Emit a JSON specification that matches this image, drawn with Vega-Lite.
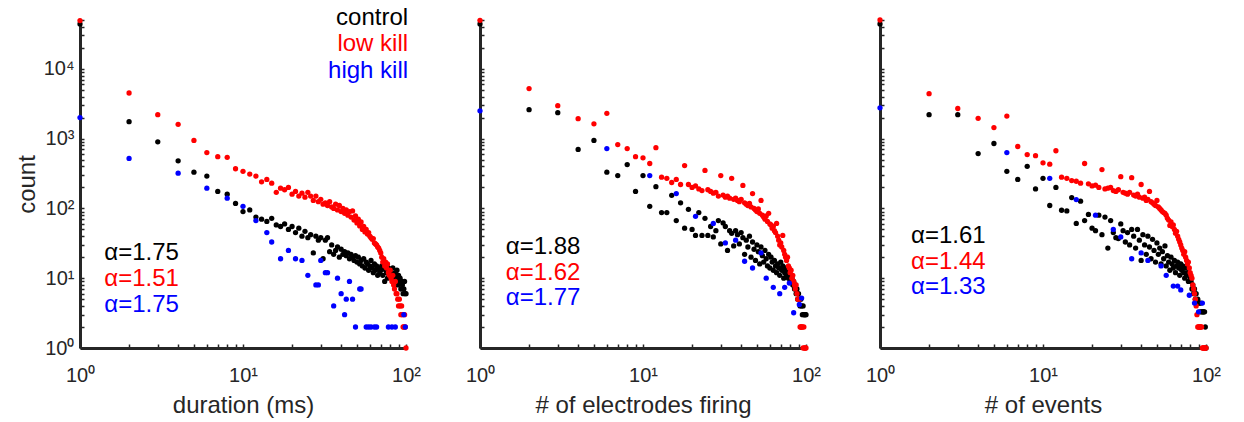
{
"$schema":"https://vega.github.io/schema/vega-lite/v6.json",
"background":"white",
"padding":{"left":15,"top":5,"right":5,"bottom":5},
"datasets":{
"pts":[
{"p":1,"s":"c","x":1,"y":44000},{"p":1,"s":"c","x":2,"y":1750},{"p":1,"s":"c","x":3,"y":900},{"p":1,"s":"c","x":4,"y":480},{"p":1,"s":"c","x":5,"y":330},{"p":1,"s":"c","x":6,"y":290},{"p":1,"s":"c","x":7,"y":175},{"p":1,"s":"c","x":8,"y":160},{"p":1,"s":"c","x":9,"y":118},{"p":1,"s":"c","x":10,"y":90},
{"p":1,"s":"c","x":11,"y":95},{"p":1,"s":"c","x":12,"y":75},{"p":1,"s":"c","x":13,"y":70},{"p":1,"s":"c","x":14,"y":65},{"p":1,"s":"c","x":15,"y":72},{"p":1,"s":"c","x":16,"y":58},{"p":1,"s":"c","x":17,"y":55},{"p":1,"s":"c","x":18,"y":60},{"p":1,"s":"c","x":19,"y":50},{"p":1,"s":"c","x":20,"y":55},
{"p":1,"s":"c","x":21,"y":45},{"p":1,"s":"c","x":22,"y":52},{"p":1,"s":"c","x":23,"y":40},{"p":1,"s":"c","x":24,"y":47},{"p":1,"s":"c","x":25,"y":38},{"p":1,"s":"c","x":26,"y":42},{"p":1,"s":"c","x":27,"y":23},{"p":1,"s":"c","x":28,"y":40},{"p":1,"s":"c","x":29,"y":35},{"p":1,"s":"c","x":30,"y":38},
{"p":1,"s":"c","x":31,"y":19},{"p":1,"s":"c","x":32,"y":35},{"p":1,"s":"c","x":33,"y":38},{"p":1,"s":"c","x":34,"y":24},{"p":1,"s":"c","x":35,"y":30},{"p":1,"s":"c","x":36,"y":22},{"p":1,"s":"c","x":37,"y":25},{"p":1,"s":"c","x":38,"y":28},{"p":1,"s":"c","x":39,"y":20},{"p":1,"s":"c","x":40,"y":26},
{"p":1,"s":"c","x":41,"y":22},{"p":1,"s":"c","x":42,"y":24},{"p":1,"s":"c","x":43,"y":21},{"p":1,"s":"c","x":44,"y":23},{"p":1,"s":"c","x":45,"y":19},{"p":1,"s":"c","x":46,"y":22},{"p":1,"s":"c","x":47,"y":20},{"p":1,"s":"c","x":48,"y":18},{"p":1,"s":"c","x":49,"y":21},{"p":1,"s":"c","x":50,"y":17},
{"p":1,"s":"c","x":51,"y":20},{"p":1,"s":"c","x":52,"y":16},{"p":1,"s":"c","x":53,"y":18},{"p":1,"s":"c","x":54,"y":15},{"p":1,"s":"c","x":55,"y":19},{"p":1,"s":"c","x":56,"y":14},{"p":1,"s":"c","x":57,"y":17},{"p":1,"s":"c","x":58,"y":16},{"p":1,"s":"c","x":59,"y":13},{"p":1,"s":"c","x":60,"y":15},
{"p":1,"s":"c","x":61,"y":18},{"p":1,"s":"c","x":62,"y":14},{"p":1,"s":"c","x":63,"y":12},{"p":1,"s":"c","x":64,"y":16},{"p":1,"s":"c","x":65,"y":13},{"p":1,"s":"c","x":66,"y":15},{"p":1,"s":"c","x":67,"y":11},{"p":1,"s":"c","x":68,"y":14},{"p":1,"s":"c","x":69,"y":12},{"p":1,"s":"c","x":70,"y":13},
{"p":1,"s":"c","x":71,"y":15},{"p":1,"s":"c","x":72,"y":11},{"p":1,"s":"c","x":73,"y":14},{"p":1,"s":"c","x":74,"y":9},{"p":1,"s":"c","x":75,"y":13},{"p":1,"s":"c","x":76,"y":12},{"p":1,"s":"c","x":77,"y":10},{"p":1,"s":"c","x":78,"y":14},{"p":1,"s":"c","x":79,"y":11},{"p":1,"s":"c","x":80,"y":13},
{"p":1,"s":"c","x":81,"y":12},{"p":1,"s":"c","x":82,"y":10},{"p":1,"s":"c","x":83,"y":14},{"p":1,"s":"c","x":84,"y":11},{"p":1,"s":"c","x":85,"y":9},{"p":1,"s":"c","x":86,"y":12},{"p":1,"s":"c","x":87,"y":10},{"p":1,"s":"c","x":88,"y":13},{"p":1,"s":"c","x":89,"y":8},{"p":1,"s":"c","x":90,"y":11},
{"p":1,"s":"c","x":91,"y":9},{"p":1,"s":"c","x":92,"y":10},{"p":1,"s":"c","x":93,"y":7},{"p":1,"s":"c","x":94,"y":9},{"p":1,"s":"c","x":95,"y":8},{"p":1,"s":"c","x":96,"y":6},{"p":1,"s":"c","x":97,"y":7},{"p":1,"s":"c","x":98,"y":9},{"p":1,"s":"c","x":99,"y":6},{"p":1,"s":"c","x":100,"y":6},
{"p":1,"s":"l","x":1,"y":49000},{"p":1,"s":"l","x":2,"y":4500},{"p":1,"s":"l","x":3,"y":2200},{"p":1,"s":"l","x":4,"y":1600},{"p":1,"s":"l","x":5,"y":940},{"p":1,"s":"l","x":6,"y":630},{"p":1,"s":"l","x":7,"y":550},{"p":1,"s":"l","x":8,"y":540},{"p":1,"s":"l","x":9,"y":370},{"p":1,"s":"l","x":10,"y":340},
{"p":1,"s":"l","x":11,"y":310},{"p":1,"s":"l","x":12,"y":290},{"p":1,"s":"l","x":13,"y":240},{"p":1,"s":"l","x":14,"y":260},{"p":1,"s":"l","x":15,"y":230},{"p":1,"s":"l","x":16,"y":170},{"p":1,"s":"l","x":17,"y":195},{"p":1,"s":"l","x":18,"y":185},{"p":1,"s":"l","x":19,"y":200},{"p":1,"s":"l","x":20,"y":160},
{"p":1,"s":"l","x":21,"y":175},{"p":1,"s":"l","x":22,"y":150},{"p":1,"s":"l","x":23,"y":165},{"p":1,"s":"l","x":24,"y":145},{"p":1,"s":"l","x":25,"y":170},{"p":1,"s":"l","x":26,"y":150},{"p":1,"s":"l","x":27,"y":130},{"p":1,"s":"l","x":28,"y":150},{"p":1,"s":"l","x":29,"y":125},{"p":1,"s":"l","x":30,"y":135},
{"p":1,"s":"l","x":31,"y":115},{"p":1,"s":"l","x":32,"y":120},{"p":1,"s":"l","x":33,"y":110},{"p":1,"s":"l","x":34,"y":125},{"p":1,"s":"l","x":35,"y":105},{"p":1,"s":"l","x":36,"y":100},{"p":1,"s":"l","x":37,"y":115},{"p":1,"s":"l","x":38,"y":95},{"p":1,"s":"l","x":39,"y":110},{"p":1,"s":"l","x":40,"y":90},
{"p":1,"s":"l","x":41,"y":100},{"p":1,"s":"l","x":42,"y":85},{"p":1,"s":"l","x":43,"y":95},{"p":1,"s":"l","x":44,"y":80},{"p":1,"s":"l","x":45,"y":90},{"p":1,"s":"l","x":46,"y":75},{"p":1,"s":"l","x":47,"y":92},{"p":1,"s":"l","x":48,"y":68},{"p":1,"s":"l","x":49,"y":78},{"p":1,"s":"l","x":50,"y":62},
{"p":1,"s":"l","x":51,"y":70},{"p":1,"s":"l","x":52,"y":56},{"p":1,"s":"l","x":53,"y":64},{"p":1,"s":"l","x":54,"y":50},{"p":1,"s":"l","x":55,"y":55},{"p":1,"s":"l","x":56,"y":46},{"p":1,"s":"l","x":57,"y":50},{"p":1,"s":"l","x":58,"y":43},{"p":1,"s":"l","x":59,"y":45},{"p":1,"s":"l","x":60,"y":40},
{"p":1,"s":"l","x":61,"y":38},{"p":1,"s":"l","x":62,"y":36},{"p":1,"s":"l","x":63,"y":37},{"p":1,"s":"l","x":64,"y":32},{"p":1,"s":"l","x":65,"y":31},{"p":1,"s":"l","x":66,"y":30},{"p":1,"s":"l","x":67,"y":28},{"p":1,"s":"l","x":68,"y":27},{"p":1,"s":"l","x":69,"y":25},{"p":1,"s":"l","x":70,"y":23},
{"p":1,"s":"l","x":71,"y":20},{"p":1,"s":"l","x":72,"y":17},{"p":1,"s":"l","x":73,"y":19},{"p":1,"s":"l","x":74,"y":15},{"p":1,"s":"l","x":75,"y":17},{"p":1,"s":"l","x":76,"y":14},{"p":1,"s":"l","x":77,"y":16},{"p":1,"s":"l","x":78,"y":12},{"p":1,"s":"l","x":79,"y":11},{"p":1,"s":"l","x":80,"y":13},
{"p":1,"s":"l","x":81,"y":10},{"p":1,"s":"l","x":82,"y":9},{"p":1,"s":"l","x":83,"y":11},{"p":1,"s":"l","x":84,"y":8},{"p":1,"s":"l","x":85,"y":7},{"p":1,"s":"l","x":86,"y":9},{"p":1,"s":"l","x":87,"y":6},{"p":1,"s":"l","x":88,"y":6},{"p":1,"s":"l","x":89,"y":5},{"p":1,"s":"l","x":90,"y":4},
{"p":1,"s":"l","x":91,"y":5},{"p":1,"s":"l","x":92,"y":4},{"p":1,"s":"l","x":93,"y":3},{"p":1,"s":"l","x":94,"y":4},{"p":1,"s":"l","x":95,"y":3},{"p":1,"s":"l","x":96,"y":2},{"p":1,"s":"l","x":97,"y":2},{"p":1,"s":"l","x":98,"y":3},{"p":1,"s":"l","x":99,"y":2},{"p":1,"s":"l","x":100,"y":1},
{"p":1,"s":"h","x":1,"y":2000},{"p":1,"s":"h","x":2,"y":520},{"p":1,"s":"h","x":4,"y":320},{"p":1,"s":"h","x":6,"y":195},{"p":1,"s":"h","x":8,"y":140},{"p":1,"s":"h","x":10,"y":107},{"p":1,"s":"h","x":12,"y":67},{"p":1,"s":"h","x":14,"y":45},{"p":1,"s":"h","x":15,"y":33},{"p":1,"s":"h","x":17,"y":19},
{"p":1,"s":"h","x":19,"y":25},{"p":1,"s":"h","x":21,"y":19},{"p":1,"s":"h","x":23,"y":18},{"p":1,"s":"h","x":25,"y":11},{"p":1,"s":"h","x":28,"y":8},{"p":1,"s":"h","x":29,"y":8},{"p":1,"s":"h","x":30,"y":18},{"p":1,"s":"h","x":32,"y":12},{"p":1,"s":"h","x":33,"y":12},{"p":1,"s":"h","x":36,"y":4},
{"p":1,"s":"h","x":38,"y":10},{"p":1,"s":"h","x":40,"y":6},{"p":1,"s":"h","x":42,"y":3},{"p":1,"s":"h","x":43,"y":5},{"p":1,"s":"h","x":45,"y":9},{"p":1,"s":"h","x":47,"y":5},{"p":1,"s":"h","x":49,"y":2},{"p":1,"s":"h","x":52,"y":7},{"p":1,"s":"h","x":53,"y":7},{"p":1,"s":"h","x":57,"y":2},
{"p":1,"s":"h","x":59,"y":2},{"p":1,"s":"h","x":61,"y":2},{"p":1,"s":"h","x":64,"y":2},{"p":1,"s":"h","x":66,"y":2},{"p":1,"s":"h","x":78,"y":2},{"p":1,"s":"h","x":82,"y":2},{"p":1,"s":"h","x":86,"y":2},{"p":1,"s":"h","x":97,"y":3},{"p":1,"s":"h","x":99,"y":2},
{"p":2,"s":"c","x":1,"y":44000},{"p":2,"s":"c","x":2,"y":2600},{"p":2,"s":"c","x":3,"y":2350},{"p":2,"s":"c","x":4,"y":700},{"p":2,"s":"c","x":5,"y":940},{"p":2,"s":"c","x":6,"y":330},{"p":2,"s":"c","x":7,"y":295},{"p":2,"s":"c","x":8,"y":425},{"p":2,"s":"c","x":9,"y":175},{"p":2,"s":"c","x":10,"y":295},
{"p":2,"s":"c","x":11,"y":107},{"p":2,"s":"c","x":12,"y":205},{"p":2,"s":"c","x":13,"y":87},{"p":2,"s":"c","x":14,"y":87},{"p":2,"s":"c","x":15,"y":154},{"p":2,"s":"c","x":16,"y":67},{"p":2,"s":"c","x":17,"y":120},{"p":2,"s":"c","x":18,"y":52},{"p":2,"s":"c","x":19,"y":97},{"p":2,"s":"c","x":20,"y":50},
{"p":2,"s":"c","x":21,"y":41},{"p":2,"s":"c","x":22,"y":87},{"p":2,"s":"c","x":23,"y":41},{"p":2,"s":"c","x":24,"y":72},{"p":2,"s":"c","x":25,"y":41},{"p":2,"s":"c","x":26,"y":55},{"p":2,"s":"c","x":27,"y":39},{"p":2,"s":"c","x":28,"y":48},{"p":2,"s":"c","x":29,"y":67},{"p":2,"s":"c","x":30,"y":31},
{"p":2,"s":"c","x":31,"y":62},{"p":2,"s":"c","x":32,"y":55},{"p":2,"s":"c","x":33,"y":25},{"p":2,"s":"c","x":34,"y":48},{"p":2,"s":"c","x":35,"y":44},{"p":2,"s":"c","x":36,"y":29},{"p":2,"s":"c","x":37,"y":48},{"p":2,"s":"c","x":38,"y":42},{"p":2,"s":"c","x":39,"y":31},{"p":2,"s":"c","x":40,"y":45},
{"p":2,"s":"c","x":41,"y":38},{"p":2,"s":"c","x":42,"y":22},{"p":2,"s":"c","x":43,"y":35},{"p":2,"s":"c","x":44,"y":28},{"p":2,"s":"c","x":45,"y":40},{"p":2,"s":"c","x":46,"y":20},{"p":2,"s":"c","x":47,"y":33},{"p":2,"s":"c","x":48,"y":26},{"p":2,"s":"c","x":49,"y":18},{"p":2,"s":"c","x":50,"y":30},
{"p":2,"s":"c","x":51,"y":24},{"p":2,"s":"c","x":52,"y":16},{"p":2,"s":"c","x":53,"y":28},{"p":2,"s":"c","x":54,"y":21},{"p":2,"s":"c","x":55,"y":17},{"p":2,"s":"c","x":56,"y":25},{"p":2,"s":"c","x":57,"y":19},{"p":2,"s":"c","x":58,"y":15},{"p":2,"s":"c","x":59,"y":22},{"p":2,"s":"c","x":60,"y":14},
{"p":2,"s":"c","x":61,"y":20},{"p":2,"s":"c","x":62,"y":17},{"p":2,"s":"c","x":63,"y":13},{"p":2,"s":"c","x":64,"y":18},{"p":2,"s":"c","x":65,"y":15},{"p":2,"s":"c","x":66,"y":12},{"p":2,"s":"c","x":67,"y":16},{"p":2,"s":"c","x":68,"y":14},{"p":2,"s":"c","x":69,"y":11},{"p":2,"s":"c","x":70,"y":17},
{"p":2,"s":"c","x":71,"y":13},{"p":2,"s":"c","x":72,"y":15},{"p":2,"s":"c","x":73,"y":10},{"p":2,"s":"c","x":74,"y":12},{"p":2,"s":"c","x":75,"y":14},{"p":2,"s":"c","x":76,"y":11},{"p":2,"s":"c","x":77,"y":13},{"p":2,"s":"c","x":78,"y":10},{"p":2,"s":"c","x":79,"y":12},{"p":2,"s":"c","x":80,"y":9},
{"p":2,"s":"c","x":81,"y":11},{"p":2,"s":"c","x":82,"y":10},{"p":2,"s":"c","x":83,"y":8},{"p":2,"s":"c","x":84,"y":9},{"p":2,"s":"c","x":85,"y":7},{"p":2,"s":"c","x":86,"y":8},{"p":2,"s":"c","x":87,"y":6},{"p":2,"s":"c","x":88,"y":7},{"p":2,"s":"c","x":89,"y":5},{"p":2,"s":"c","x":90,"y":6},
{"p":2,"s":"c","x":91,"y":5},{"p":2,"s":"c","x":92,"y":4},{"p":2,"s":"c","x":93,"y":5},{"p":2,"s":"c","x":94,"y":4},{"p":2,"s":"c","x":95,"y":3},{"p":2,"s":"c","x":96,"y":4},{"p":2,"s":"c","x":97,"y":3},{"p":2,"s":"c","x":98,"y":3},{"p":2,"s":"c","x":99,"y":3},{"p":2,"s":"c","x":100,"y":3},
{"p":2,"s":"l","x":1,"y":49500},{"p":2,"s":"l","x":2,"y":5200},{"p":2,"s":"l","x":3,"y":2960},{"p":2,"s":"l","x":4,"y":1930},{"p":2,"s":"l","x":5,"y":1630},{"p":2,"s":"l","x":6,"y":2300},{"p":2,"s":"l","x":7,"y":820},{"p":2,"s":"l","x":8,"y":720},{"p":2,"s":"l","x":9,"y":550},{"p":2,"s":"l","x":10,"y":530},
{"p":2,"s":"l","x":11,"y":440},{"p":2,"s":"l","x":12,"y":740},{"p":2,"s":"l","x":13,"y":280},{"p":2,"s":"l","x":14,"y":270},{"p":2,"s":"l","x":15,"y":235},{"p":2,"s":"l","x":16,"y":260},{"p":2,"s":"l","x":17,"y":220},{"p":2,"s":"l","x":18,"y":410},{"p":2,"s":"l","x":19,"y":220},{"p":2,"s":"l","x":20,"y":200},
{"p":2,"s":"l","x":21,"y":210},{"p":2,"s":"l","x":22,"y":190},{"p":2,"s":"l","x":23,"y":180},{"p":2,"s":"l","x":24,"y":350},{"p":2,"s":"l","x":25,"y":185},{"p":2,"s":"l","x":26,"y":175},{"p":2,"s":"l","x":27,"y":165},{"p":2,"s":"l","x":28,"y":170},{"p":2,"s":"l","x":29,"y":150},{"p":2,"s":"l","x":30,"y":295},
{"p":2,"s":"l","x":31,"y":155},{"p":2,"s":"l","x":32,"y":145},{"p":2,"s":"l","x":33,"y":150},{"p":2,"s":"l","x":34,"y":140},{"p":2,"s":"l","x":35,"y":270},{"p":2,"s":"l","x":36,"y":135},{"p":2,"s":"l","x":37,"y":140},{"p":2,"s":"l","x":38,"y":130},{"p":2,"s":"l","x":39,"y":125},{"p":2,"s":"l","x":40,"y":135},
{"p":2,"s":"l","x":41,"y":213},{"p":2,"s":"l","x":42,"y":120},{"p":2,"s":"l","x":43,"y":115},{"p":2,"s":"l","x":44,"y":110},{"p":2,"s":"l","x":45,"y":118},{"p":2,"s":"l","x":46,"y":105},{"p":2,"s":"l","x":47,"y":163},{"p":2,"s":"l","x":48,"y":100},{"p":2,"s":"l","x":49,"y":95},{"p":2,"s":"l","x":50,"y":90},
{"p":2,"s":"l","x":51,"y":98},{"p":2,"s":"l","x":52,"y":85},{"p":2,"s":"l","x":53,"y":130},{"p":2,"s":"l","x":54,"y":80},{"p":2,"s":"l","x":55,"y":75},{"p":2,"s":"l","x":56,"y":70},{"p":2,"s":"l","x":57,"y":78},{"p":2,"s":"l","x":58,"y":65},{"p":2,"s":"l","x":59,"y":85},{"p":2,"s":"l","x":60,"y":60},
{"p":2,"s":"l","x":61,"y":58},{"p":2,"s":"l","x":62,"y":52},{"p":2,"s":"l","x":63,"y":55},{"p":2,"s":"l","x":64,"y":48},{"p":2,"s":"l","x":65,"y":45},{"p":2,"s":"l","x":66,"y":61},{"p":2,"s":"l","x":67,"y":40},{"p":2,"s":"l","x":68,"y":35},{"p":2,"s":"l","x":69,"y":30},{"p":2,"s":"l","x":70,"y":32},
{"p":2,"s":"l","x":71,"y":28},{"p":2,"s":"l","x":72,"y":41},{"p":2,"s":"l","x":73,"y":25},{"p":2,"s":"l","x":74,"y":22},{"p":2,"s":"l","x":75,"y":20},{"p":2,"s":"l","x":76,"y":18},{"p":2,"s":"l","x":77,"y":20},{"p":2,"s":"l","x":78,"y":15},{"p":2,"s":"l","x":79,"y":14},{"p":2,"s":"l","x":80,"y":12},
{"p":2,"s":"l","x":81,"y":13},{"p":2,"s":"l","x":82,"y":10},{"p":2,"s":"l","x":83,"y":11},{"p":2,"s":"l","x":84,"y":9},{"p":2,"s":"l","x":85,"y":8},{"p":2,"s":"l","x":86,"y":7},{"p":2,"s":"l","x":87,"y":8},{"p":2,"s":"l","x":88,"y":6},{"p":2,"s":"l","x":89,"y":5},{"p":2,"s":"l","x":90,"y":5},
{"p":2,"s":"l","x":91,"y":5},{"p":2,"s":"l","x":92,"y":2},{"p":2,"s":"l","x":93,"y":2},{"p":2,"s":"l","x":94,"y":2},{"p":2,"s":"l","x":95,"y":2},{"p":2,"s":"l","x":96,"y":1},{"p":2,"s":"l","x":97,"y":2},{"p":2,"s":"l","x":98,"y":1},{"p":2,"s":"l","x":99,"y":1},{"p":2,"s":"l","x":100,"y":1},
{"p":2,"s":"h","x":1,"y":2500},{"p":2,"s":"h","x":6,"y":720},{"p":2,"s":"h","x":11,"y":295},{"p":2,"s":"h","x":16,"y":163},{"p":2,"s":"h","x":21,"y":77},{"p":2,"s":"h","x":27,"y":61},{"p":2,"s":"h","x":32,"y":32},{"p":2,"s":"h","x":37,"y":35},{"p":2,"s":"h","x":42,"y":17.5},{"p":2,"s":"h","x":47,"y":14},
{"p":2,"s":"h","x":53,"y":23},{"p":2,"s":"h","x":57,"y":10},{"p":2,"s":"h","x":63,"y":7.4},{"p":2,"s":"h","x":69,"y":6},{"p":2,"s":"h","x":74,"y":7.4},{"p":2,"s":"h","x":79,"y":8.5},{"p":2,"s":"h","x":84,"y":3.2},{"p":2,"s":"h","x":91,"y":4.2},{"p":2,"s":"h","x":94,"y":5.2},
{"p":3,"s":"c","x":1,"y":44000},{"p":3,"s":"c","x":2,"y":2200},{"p":3,"s":"c","x":3,"y":2200},{"p":3,"s":"c","x":4,"y":610},{"p":3,"s":"c","x":5,"y":850},{"p":3,"s":"c","x":6,"y":340},{"p":3,"s":"c","x":7,"y":260},{"p":3,"s":"c","x":8,"y":400},{"p":3,"s":"c","x":9,"y":190},{"p":3,"s":"c","x":10,"y":270},
{"p":3,"s":"c","x":11,"y":110},{"p":3,"s":"c","x":12,"y":200},{"p":3,"s":"c","x":13,"y":94},{"p":3,"s":"c","x":14,"y":92},{"p":3,"s":"c","x":15,"y":143},{"p":3,"s":"c","x":16,"y":61},{"p":3,"s":"c","x":17,"y":127},{"p":3,"s":"c","x":18,"y":67},{"p":3,"s":"c","x":19,"y":82},{"p":3,"s":"c","x":20,"y":52},
{"p":3,"s":"c","x":21,"y":48},{"p":3,"s":"c","x":22,"y":80},{"p":3,"s":"c","x":23,"y":42},{"p":3,"s":"c","x":24,"y":75},{"p":3,"s":"c","x":25,"y":27},{"p":3,"s":"c","x":26,"y":67},{"p":3,"s":"c","x":27,"y":45},{"p":3,"s":"c","x":28,"y":38},{"p":3,"s":"c","x":29,"y":37},{"p":3,"s":"c","x":30,"y":60},
{"p":3,"s":"c","x":31,"y":48},{"p":3,"s":"c","x":32,"y":33},{"p":3,"s":"c","x":33,"y":45},{"p":3,"s":"c","x":34,"y":30},{"p":3,"s":"c","x":35,"y":50},{"p":3,"s":"c","x":36,"y":40},{"p":3,"s":"c","x":37,"y":27},{"p":3,"s":"c","x":38,"y":50},{"p":3,"s":"c","x":39,"y":35},{"p":3,"s":"c","x":40,"y":18},
{"p":3,"s":"c","x":41,"y":42},{"p":3,"s":"c","x":42,"y":30},{"p":3,"s":"c","x":43,"y":22},{"p":3,"s":"c","x":44,"y":40},{"p":3,"s":"c","x":45,"y":28},{"p":3,"s":"c","x":46,"y":19},{"p":3,"s":"c","x":47,"y":36},{"p":3,"s":"c","x":48,"y":25},{"p":3,"s":"c","x":49,"y":17},{"p":3,"s":"c","x":50,"y":32},
{"p":3,"s":"c","x":51,"y":22},{"p":3,"s":"c","x":52,"y":27},{"p":3,"s":"c","x":53,"y":16},{"p":3,"s":"c","x":54,"y":24},{"p":3,"s":"c","x":55,"y":19},{"p":3,"s":"c","x":56,"y":29},{"p":3,"s":"c","x":57,"y":15},{"p":3,"s":"c","x":58,"y":21},{"p":3,"s":"c","x":59,"y":17},{"p":3,"s":"c","x":60,"y":13},
{"p":3,"s":"c","x":61,"y":20},{"p":3,"s":"c","x":62,"y":16},{"p":3,"s":"c","x":63,"y":14},{"p":3,"s":"c","x":64,"y":18},{"p":3,"s":"c","x":65,"y":12},{"p":3,"s":"c","x":66,"y":15},{"p":3,"s":"c","x":67,"y":17},{"p":3,"s":"c","x":68,"y":14},{"p":3,"s":"c","x":69,"y":11},{"p":3,"s":"c","x":70,"y":16},
{"p":3,"s":"c","x":71,"y":13},{"p":3,"s":"c","x":72,"y":15},{"p":3,"s":"c","x":73,"y":12},{"p":3,"s":"c","x":74,"y":10},{"p":3,"s":"c","x":75,"y":14},{"p":3,"s":"c","x":76,"y":11},{"p":3,"s":"c","x":77,"y":12},{"p":3,"s":"c","x":78,"y":9},{"p":3,"s":"c","x":79,"y":11},{"p":3,"s":"c","x":80,"y":10},
{"p":3,"s":"c","x":81,"y":9},{"p":3,"s":"c","x":82,"y":7},{"p":3,"s":"c","x":83,"y":8},{"p":3,"s":"c","x":84,"y":6},{"p":3,"s":"c","x":85,"y":7},{"p":3,"s":"c","x":86,"y":5},{"p":3,"s":"c","x":87,"y":6},{"p":3,"s":"c","x":88,"y":4.4},{"p":3,"s":"c","x":89,"y":5},{"p":3,"s":"c","x":90,"y":4.4},
{"p":3,"s":"c","x":91,"y":4.4},{"p":3,"s":"c","x":92,"y":3.3},{"p":3,"s":"c","x":93,"y":4.4},{"p":3,"s":"c","x":94,"y":3.3},{"p":3,"s":"c","x":95,"y":3.3},{"p":3,"s":"c","x":96,"y":3.3},{"p":3,"s":"c","x":97,"y":3.3},{"p":3,"s":"c","x":98,"y":3.3},{"p":3,"s":"c","x":99,"y":2},{"p":3,"s":"c","x":100,"y":1},
{"p":3,"s":"l","x":1,"y":50000},{"p":3,"s":"l","x":2,"y":4400},{"p":3,"s":"l","x":3,"y":2700},{"p":3,"s":"l","x":4,"y":1950},{"p":3,"s":"l","x":5,"y":1440},{"p":3,"s":"l","x":6,"y":2100},{"p":3,"s":"l","x":7,"y":770},{"p":3,"s":"l","x":8,"y":590},{"p":3,"s":"l","x":9,"y":570},{"p":3,"s":"l","x":10,"y":450},
{"p":3,"s":"l","x":11,"y":430},{"p":3,"s":"l","x":12,"y":670},{"p":3,"s":"l","x":13,"y":280},{"p":3,"s":"l","x":14,"y":270},{"p":3,"s":"l","x":15,"y":250},{"p":3,"s":"l","x":16,"y":245},{"p":3,"s":"l","x":17,"y":230},{"p":3,"s":"l","x":18,"y":440},{"p":3,"s":"l","x":19,"y":225},{"p":3,"s":"l","x":20,"y":210},
{"p":3,"s":"l","x":21,"y":215},{"p":3,"s":"l","x":22,"y":200},{"p":3,"s":"l","x":23,"y":360},{"p":3,"s":"l","x":24,"y":190},{"p":3,"s":"l","x":25,"y":195},{"p":3,"s":"l","x":26,"y":200},{"p":3,"s":"l","x":27,"y":180},{"p":3,"s":"l","x":28,"y":175},{"p":3,"s":"l","x":29,"y":185},{"p":3,"s":"l","x":30,"y":285},
{"p":3,"s":"l","x":31,"y":170},{"p":3,"s":"l","x":32,"y":165},{"p":3,"s":"l","x":33,"y":160},{"p":3,"s":"l","x":34,"y":170},{"p":3,"s":"l","x":35,"y":275},{"p":3,"s":"l","x":36,"y":155},{"p":3,"s":"l","x":37,"y":150},{"p":3,"s":"l","x":38,"y":160},{"p":3,"s":"l","x":39,"y":145},{"p":3,"s":"l","x":40,"y":220},
{"p":3,"s":"l","x":41,"y":140},{"p":3,"s":"l","x":42,"y":145},{"p":3,"s":"l","x":43,"y":130},{"p":3,"s":"l","x":44,"y":135},{"p":3,"s":"l","x":45,"y":175},{"p":3,"s":"l","x":46,"y":125},{"p":3,"s":"l","x":47,"y":120},{"p":3,"s":"l","x":48,"y":115},{"p":3,"s":"l","x":49,"y":110},{"p":3,"s":"l","x":50,"y":130},
{"p":3,"s":"l","x":51,"y":105},{"p":3,"s":"l","x":52,"y":100},{"p":3,"s":"l","x":53,"y":95},{"p":3,"s":"l","x":54,"y":90},{"p":3,"s":"l","x":55,"y":87},{"p":3,"s":"l","x":56,"y":85},{"p":3,"s":"l","x":57,"y":80},{"p":3,"s":"l","x":58,"y":72},{"p":3,"s":"l","x":59,"y":68},{"p":3,"s":"l","x":60,"y":57},
{"p":3,"s":"l","x":61,"y":64},{"p":3,"s":"l","x":62,"y":55},{"p":3,"s":"l","x":63,"y":58},{"p":3,"s":"l","x":64,"y":50},{"p":3,"s":"l","x":65,"y":44},{"p":3,"s":"l","x":66,"y":47},{"p":3,"s":"l","x":67,"y":40},{"p":3,"s":"l","x":68,"y":36},{"p":3,"s":"l","x":69,"y":33},{"p":3,"s":"l","x":70,"y":30},
{"p":3,"s":"l","x":71,"y":27},{"p":3,"s":"l","x":72,"y":25},{"p":3,"s":"l","x":73,"y":22},{"p":3,"s":"l","x":74,"y":24},{"p":3,"s":"l","x":75,"y":20},{"p":3,"s":"l","x":76,"y":18},{"p":3,"s":"l","x":77,"y":16},{"p":3,"s":"l","x":78,"y":17},{"p":3,"s":"l","x":79,"y":14},{"p":3,"s":"l","x":80,"y":12},
{"p":3,"s":"l","x":81,"y":11},{"p":3,"s":"l","x":82,"y":10},{"p":3,"s":"l","x":83,"y":8},{"p":3,"s":"l","x":84,"y":7},{"p":3,"s":"l","x":85,"y":6},{"p":3,"s":"l","x":86,"y":5},{"p":3,"s":"l","x":87,"y":4},{"p":3,"s":"l","x":88,"y":3},{"p":3,"s":"l","x":89,"y":2},{"p":3,"s":"l","x":90,"y":2},
{"p":3,"s":"l","x":91,"y":2},{"p":3,"s":"l","x":92,"y":2},{"p":3,"s":"l","x":93,"y":2},{"p":3,"s":"l","x":94,"y":2},{"p":3,"s":"l","x":95,"y":1},{"p":3,"s":"l","x":96,"y":1},{"p":3,"s":"l","x":97,"y":1},{"p":3,"s":"l","x":98,"y":1},{"p":3,"s":"l","x":99,"y":1},{"p":3,"s":"l","x":100,"y":1},
{"p":3,"s":"h","x":1,"y":2760},{"p":3,"s":"h","x":6,"y":630},{"p":3,"s":"h","x":11,"y":270},{"p":3,"s":"h","x":16,"y":134},{"p":3,"s":"h","x":21,"y":80},{"p":3,"s":"h","x":27,"y":50},{"p":3,"s":"h","x":30,"y":39},{"p":3,"s":"h","x":35,"y":19},{"p":3,"s":"h","x":40,"y":23},{"p":3,"s":"h","x":44,"y":18},
{"p":3,"s":"h","x":53,"y":15},{"p":3,"s":"h","x":57,"y":11},{"p":3,"s":"h","x":63,"y":7.7},{"p":3,"s":"h","x":67,"y":7.7},{"p":3,"s":"h","x":70,"y":6.8},{"p":3,"s":"h","x":79,"y":5.7},{"p":3,"s":"h","x":85,"y":4.4},{"p":3,"s":"h","x":90,"y":3.3},{"p":3,"s":"h","x":95,"y":4.4}
],
"txt":[
{"p":1,"k":"leg","s":"c","t":"control","x":103,"y":53500},
{"p":1,"k":"leg","s":"l","t":"low kill","x":103,"y":22700},
{"p":1,"k":"leg","s":"h","t":"high kill","x":103,"y":9400},
{"p":1,"k":"a","s":"c","t":"α=1.75","x":1.41,"y":22.7},
{"p":1,"k":"a","s":"l","t":"α=1.51","x":1.41,"y":9.7},
{"p":1,"k":"a","s":"h","t":"α=1.75","x":1.41,"y":4.1},
{"p":2,"k":"a","s":"c","t":"α=1.88","x":1.44,"y":27.7},
{"p":2,"k":"a","s":"l","t":"α=1.62","x":1.44,"y":11.8},
{"p":2,"k":"a","s":"h","t":"α=1.77","x":1.44,"y":5.2},
{"p":3,"k":"a","s":"c","t":"α=1.61","x":1.55,"y":39.8},
{"p":3,"k":"a","s":"l","t":"α=1.44","x":1.55,"y":16.9},
{"p":3,"k":"a","s":"h","t":"α=1.33","x":1.55,"y":7.4}
]
},
"spacing":74,
"bounds":"flush",
"hconcat":[
{"width":326,"height":328,
"encoding":{
"x":{"field":"x","type":"quantitative","scale":{"type":"log","domain":[1,100],"nice":false},"axis":{"title":"duration (ms)","values":[1,2,3,4,5,6,7,8,9,10,20,30,40,50,60,70,80,90,100],"labelExpr":"datum.value==1?'10⁰':datum.value==10?'10¹':datum.value==100?'10²':''"}},
"y":{"field":"y","type":"quantitative","scale":{"type":"log","domain":[1,50000],"nice":false},"axis":{"title":"count","values":[1,2,3,4,5,6,7,8,9,10,20,30,40,50,60,70,80,90,100,200,300,400,500,600,700,800,900,1000,2000,3000,4000,5000,6000,7000,8000,9000,10000,20000,30000,40000,50000],"labelExpr":"datum.value==1?'10⁰':datum.value==10?'10¹':datum.value==100?'10²':datum.value==1000?'10³':datum.value==10000?'10⁴':''"}},
"color":{"field":"s","type":"nominal","scale":{"domain":["c","l","h"],"range":["#000000","#ff0000","#0000ff"]},"legend":null}},
"layer":[
{"data":{"name":"pts"},"transform":[{"filter":"datum.p==1"}],"mark":{"type":"circle","size":28,"opacity":1}},
{"data":{"name":"txt"},"transform":[{"filter":"datum.p==1 && datum.k=='a'"}],"mark":{"type":"text","align":"left","baseline":"middle","fontSize":24},"encoding":{"text":{"field":"t"}}},
{"data":{"name":"txt"},"transform":[{"filter":"datum.p==1 && datum.k=='leg'"}],"mark":{"type":"text","align":"right","baseline":"middle","fontSize":24},"encoding":{"text":{"field":"t"}}}
]},
{"width":326,"height":328,
"encoding":{
"x":{"field":"x","type":"quantitative","scale":{"type":"log","domain":[1,100],"nice":false},"axis":{"title":"# of electrodes firing","values":[1,2,3,4,5,6,7,8,9,10,20,30,40,50,60,70,80,90,100],"labelExpr":"datum.value==1?'10⁰':datum.value==10?'10¹':datum.value==100?'10²':''"}},
"y":{"field":"y","type":"quantitative","scale":{"type":"log","domain":[1,50000],"nice":false},"axis":{"title":null,"labels":false,"values":[1,2,3,4,5,6,7,8,9,10,20,30,40,50,60,70,80,90,100,200,300,400,500,600,700,800,900,1000,2000,3000,4000,5000,6000,7000,8000,9000,10000,20000,30000,40000,50000]}},
"color":{"field":"s","type":"nominal","scale":{"domain":["c","l","h"],"range":["#000000","#ff0000","#0000ff"]},"legend":null}},
"layer":[
{"data":{"name":"pts"},"transform":[{"filter":"datum.p==2"}],"mark":{"type":"circle","size":28,"opacity":1}},
{"data":{"name":"txt"},"transform":[{"filter":"datum.p==2 && datum.k=='a'"}],"mark":{"type":"text","align":"left","baseline":"middle","fontSize":24},"encoding":{"text":{"field":"t"}}}
]},
{"width":326,"height":328,
"encoding":{
"x":{"field":"x","type":"quantitative","scale":{"type":"log","domain":[1,100],"nice":false},"axis":{"title":"# of events","values":[1,2,3,4,5,6,7,8,9,10,20,30,40,50,60,70,80,90,100],"labelExpr":"datum.value==1?'10⁰':datum.value==10?'10¹':datum.value==100?'10²':''"}},
"y":{"field":"y","type":"quantitative","scale":{"type":"log","domain":[1,50000],"nice":false},"axis":{"title":null,"labels":false,"values":[1,2,3,4,5,6,7,8,9,10,20,30,40,50,60,70,80,90,100,200,300,400,500,600,700,800,900,1000,2000,3000,4000,5000,6000,7000,8000,9000,10000,20000,30000,40000,50000]}},
"color":{"field":"s","type":"nominal","scale":{"domain":["c","l","h"],"range":["#000000","#ff0000","#0000ff"]},"legend":null}},
"layer":[
{"data":{"name":"pts"},"transform":[{"filter":"datum.p==3"}],"mark":{"type":"circle","size":28,"opacity":1}},
{"data":{"name":"txt"},"transform":[{"filter":"datum.p==3 && datum.k=='a'"}],"mark":{"type":"text","align":"left","baseline":"middle","fontSize":24},"encoding":{"text":{"field":"t"}}}
]}
],
"config":{
"font":"Liberation Sans",
"view":{"stroke":null},
"axis":{"domainColor":"#262626","domainWidth":3,"tickColor":"#262626","tickWidth":1.5,"tickSize":-4,"labelFont":"Liberation Sans","labelFontSize":20,"labelColor":"#262626","labelOverlap":false,"labelFlush":false,"titleFont":"Liberation Sans","titleFontSize":24,"titleFontWeight":"normal","titleColor":"#262626","grid":false},
"axisX":{"labelPadding":21,"titlePadding":8},
"axisY":{"labelPadding":10,"titlePadding":4},
"text":{"font":"Liberation Sans"}
}
}
